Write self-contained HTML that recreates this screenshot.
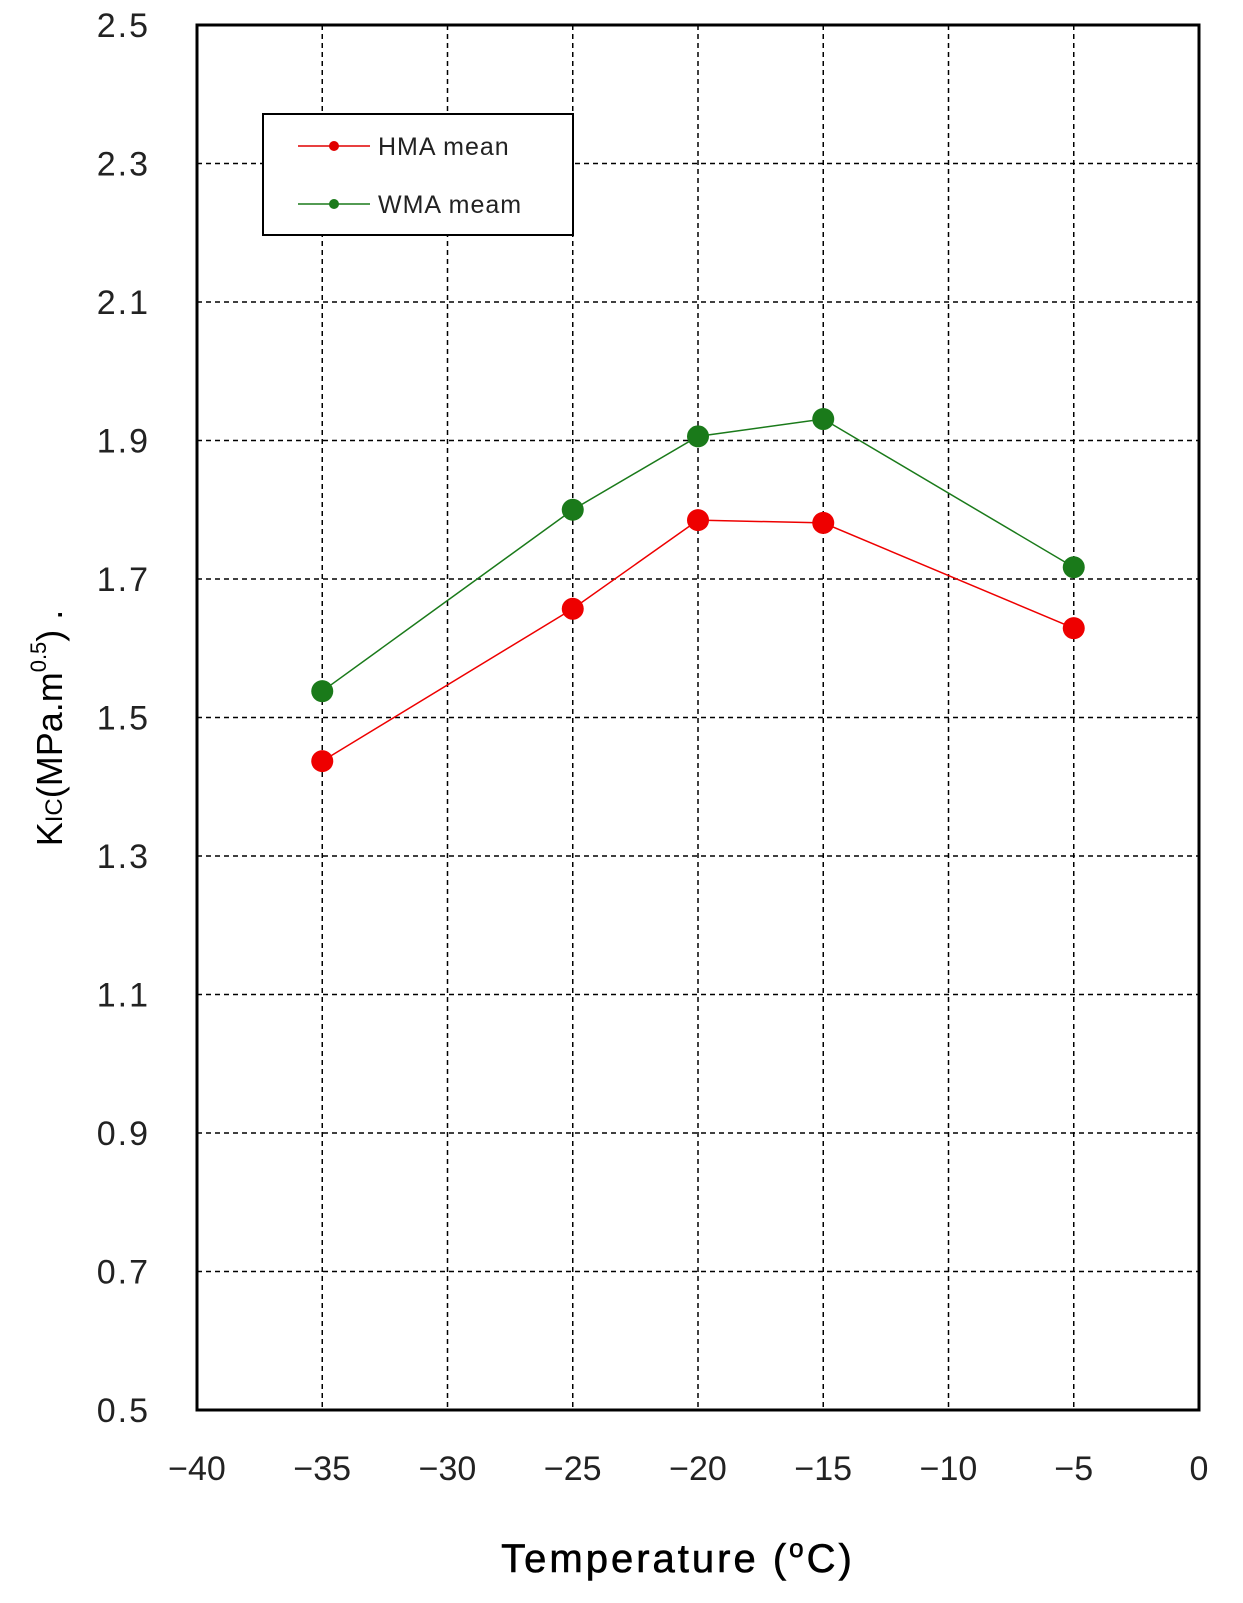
<!DOCTYPE html>
<html><head><meta charset="utf-8"><style>
body{margin:0;background:#fff;}
svg text{font-family:"Liberation Sans",sans-serif;}
</style></head><body>
<svg id="chart" width="1243" height="1598" xmlns="http://www.w3.org/2000/svg">
<g id="grid"></g>
<g id="ticks"></g>
<g id="series"></g>
<rect x="197" y="25" width="1002" height="1385" fill="none" stroke="#000" stroke-width="3"/>
<text x="678" y="1572" text-anchor="middle" font-size="40" letter-spacing="3" stroke="#000" stroke-width="0.6">Temperature (<tspan font-size="26" dy="-15">o</tspan><tspan dy="15">C)</tspan></text>
<text transform="translate(62,728) rotate(-90)" text-anchor="middle" font-size="36">K<tspan font-size="24">IC</tspan>(MPa.m<tspan font-size="22" dy="-16">0.5</tspan><tspan dy="16">) .</tspan></text>
<g>
<rect x="263" y="114" width="310" height="121" fill="#fff" stroke="#000" stroke-width="2"/>
<line x1="298" y1="146" x2="370" y2="146" stroke="#e00000" stroke-width="1.5"/>
<circle cx="334" cy="146" r="5" fill="#e00000"/>
<text x="378" y="155" font-size="25" fill="#222" letter-spacing="1">HMA mean</text>
<line x1="298" y1="204" x2="370" y2="204" stroke="#1a7a1a" stroke-width="1.5"/>
<circle cx="334" cy="204" r="5" fill="#1a7a1a"/>
<text x="378" y="213" font-size="25" fill="#222" letter-spacing="1">WMA meam</text>
</g>
</svg>
<script>
const temps=[-35,-25,-20,-15,-5];
const hma=[1.437,1.657,1.785,1.781,1.629];
const wma=[1.538,1.800,1.906,1.931,1.717];
const xTicks=[-40,-35,-30,-25,-20,-15,-10,-5,0];
const yTicks=[0.5,0.7,0.9,1.1,1.3,1.5,1.7,1.9,2.1,2.3,2.5];
const X0=197,X1=1199,Y0=1410,Y1=25;
const sx=v=>X0+(v+40)/40*(X1-X0);
const sy=v=>Y0-(v-0.5)/2*(Y0-Y1);
const NS="http://www.w3.org/2000/svg";
const mk=(p,t,a)=>{const e=document.createElementNS(NS,t);for(const k in a)e.setAttribute(k,a[k]);p.appendChild(e);return e;};
const grid=document.getElementById('grid'),ticks=document.getElementById('ticks'),series=document.getElementById('series');
xTicks.forEach(v=>{
  if(v>-40&&v<0){const l=mk(grid,'line',{x1:sx(v),x2:sx(v),y1:Y1,y2:Y0,stroke:'#000','stroke-width':1.5,'stroke-dasharray':'5,4'});
  
  }
  const t=mk(ticks,'text',{x:sx(v),y:1480,'text-anchor':'middle','font-size':34,fill:'#222'});
  t.textContent=v<0?'\u2212'+(-v):String(v);
  
  
});
yTicks.forEach(v=>{
  if(v>0.5&&v<2.5){const l=mk(grid,'line',{x1:X0,x2:X1,y1:sy(v),y2:sy(v),stroke:'#000','stroke-width':1.5,'stroke-dasharray':'5,4'});
  
  }
  const t=mk(ticks,'text',{x:150,y:sy(v)+12,'text-anchor':'end','font-size':34,fill:'#222','letter-spacing':2});
  t.textContent=v.toFixed(1);
  
  
});
function draw(vals,color,name){
  const pl=mk(series,'polyline',{points:temps.map((t,i)=>sx(t)+','+sy(vals[i])).join(' '),fill:'none',stroke:color,'stroke-width':1.5});
  
  
  vals.forEach((v,i)=>{const c=mk(series,'circle',{cx:sx(temps[i]),cy:sy(v),r:11,fill:color});
    
    });
}
draw(wma,'#1a7a1a','wma');
draw(hma,'#ee0000','hma');
</script>
</body></html>
